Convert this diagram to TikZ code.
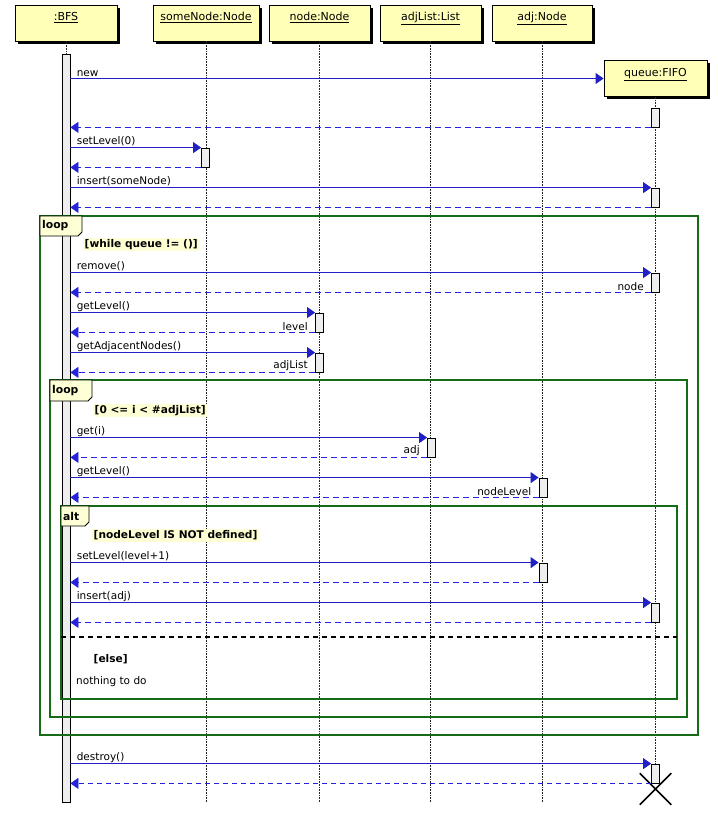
\documentclass[tikz,border=0pt]{standalone}
\usepackage{fontspec}
\setmainfont{DejaVu Sans}
\usetikzlibrary{arrows.meta,shadows,shapes.misc}
\definecolor{objfill}{RGB}{255,255,184}
\definecolor{msgblue}{RGB}{32,32,196}
\definecolor{retblue}{RGB}{36,36,220}
\definecolor{framegreen}{RGB}{22,108,22}
\definecolor{guardfill}{RGB}{255,255,214}
\definecolor{barfill}{RGB}{238,238,238}
\tikzset{
  obj/.style={draw, fill=objfill, line width=0.8pt, minimum width=102pt, minimum height=36pt,
    inner sep=0pt, text height=8pt, text depth=12pt, font=\fontsize{11}{13}\selectfont,
    drop shadow={shadow xshift=3pt, shadow yshift=-3pt, fill=black, opacity=1}},
  life/.style={densely dotted, black!85, line width=0.6pt},
  actbar/.style={draw, fill=barfill, line width=0.8pt, minimum width=8pt, inner sep=0pt},
  msg/.style={draw=msgblue, line width=0.8pt, -{Triangle[length=8pt,width=11pt]}},
  ret/.style={msg, draw=retblue, dash pattern=on 6pt off 4pt},
  lbl/.style={above right, inner sep=1pt, xshift=5pt, font=\fontsize{10.5}{12}\selectfont},
  rlbl/.style={above left, inner sep=1pt, xshift=-6pt, font=\fontsize{10.5}{12}\selectfont},
  frame/.style={draw=framegreen, line width=1.6pt},
  tab/.style={draw, fill=guardfill, line width=0.8pt},
  tabtxt/.style={anchor=west, inner sep=1pt, font=\bfseries\fontsize{10.8}{12}\selectfont},
  guard/.style={anchor=west, fill=guardfill, inner sep=1.5pt, font=\bfseries\fontsize{10.6}{12}\selectfont},
  plain/.style={anchor=west, inner sep=1pt, font=\fontsize{10.5}{12}\selectfont}
}
\newcommand\actbox[4]{\node[actbar, minimum height={(#4)-(#3)}] (#1) at (#2,{((#3)+(#4))/2}) {};}
\begin{document}
\begin{tikzpicture}[x=1pt,y=-1pt]
\useasboundingbox (0,0) rectangle (717,821);
% objects
\node[obj] (bfs) at (66,23) {\underline{:BFS}};
\node[obj, minimum width=106pt] (somenode) at (206,23) {\underline{someNode:Node}};
\node[obj, minimum width=101pt] (nodeobj) at (319.5,23) {\underline{node:Node}};
\node[obj, minimum width=101pt] (adjlist) at (430.5,23) {\underline{adjList:List}};
\node[obj, minimum width=100pt] (adjobj) at (542,23) {\underline{adj:Node}};
\node[obj, minimum width=103pt] (queue) at (655.5,78.5) {\underline{queue:FIFO}};
% lifelines
\draw[life] (bfs.south) -- (bfs.south |- 0,802);
\draw[life] (somenode.south) -- (somenode.south |- 0,802);
\draw[life] (nodeobj.south) -- (nodeobj.south |- 0,802);
\draw[life] (adjlist.south) -- (adjlist.south |- 0,802);
\draw[life] (adjobj.south) -- (adjobj.south |- 0,802);
\draw[life] (queue.south) -- (queue.south |- 0,783);
% activations
\actbox{bfsbar}{66}{54}{802}
\actbox{q1}{655.5}{108}{127}
\actbox{s1}{205.5}{148}{167}
\actbox{q2}{655.5}{188}{207}
\actbox{q3}{655.5}{273}{292}
\actbox{n1}{319.5}{313}{332}
\actbox{n2}{319.5}{353}{372}
\actbox{a1}{431.5}{438}{457}
\actbox{j1}{543}{478}{497}
\actbox{j2}{543}{563}{582}
\actbox{q4}{655.5}{603}{622}
\actbox{q5}{655.5}{764}{783}
\node[draw, cross out, line width=1.5pt, minimum size=30pt] (qend) at (655.5,789) {};
% messages
\draw[msg] (bfsbar.east |- queue.west) -- (queue.west) node[lbl, pos=0] {new};
\draw[ret] (q1.south west) -- (bfsbar.east |- q1.south);
\draw[msg] (bfsbar.east |- s1.north) -- (s1.north west) node[lbl, pos=0] {setLevel(0)};
\draw[ret] (s1.south west) -- (bfsbar.east |- s1.south);
\draw[msg] (bfsbar.east |- q2.north) -- (q2.north west) node[lbl, pos=0] {insert(someNode)};
\draw[ret] (q2.south west) -- (bfsbar.east |- q2.south);
\draw[msg] (bfsbar.east |- q3.north) -- (q3.north west) node[lbl, pos=0] {remove()};
\draw[ret] (q3.south west) -- (bfsbar.east |- q3.south) node[rlbl, pos=0] {node};
\draw[msg] (bfsbar.east |- n1.north) -- (n1.north west) node[lbl, pos=0] {getLevel()};
\draw[ret] (n1.south west) -- (bfsbar.east |- n1.south) node[rlbl, pos=0] {level};
\draw[msg] (bfsbar.east |- n2.north) -- (n2.north west) node[lbl, pos=0] {getAdjacentNodes()};
\draw[ret] (n2.south west) -- (bfsbar.east |- n2.south) node[rlbl, pos=0] {adjList};
\draw[msg] (bfsbar.east |- a1.north) -- (a1.north west) node[lbl, pos=0] {get(i)};
\draw[ret] (a1.south west) -- (bfsbar.east |- a1.south) node[rlbl, pos=0] {adj};
\draw[msg] (bfsbar.east |- j1.north) -- (j1.north west) node[lbl, pos=0] {getLevel()};
\draw[ret] (j1.south west) -- (bfsbar.east |- j1.south) node[rlbl, pos=0] {nodeLevel};
\draw[msg] (bfsbar.east |- j2.north) -- (j2.north west) node[lbl, pos=0] {setLevel(level+1)};
\draw[ret] (j2.south west) -- (bfsbar.east |- j2.south);
\draw[msg] (bfsbar.east |- q4.north) -- (q4.north west) node[lbl, pos=0] {insert(adj)};
\draw[ret] (q4.south west) -- (bfsbar.east |- q4.south);
\draw[msg] (bfsbar.east |- q5.north) -- (q5.north west) node[lbl, pos=0] {destroy()};
\draw[ret, dash pattern=on 5pt off 4pt] (q5.south west) -- (bfsbar.east |- q5.south);
% combined fragments
\draw[frame] (40,216) rectangle (698,735);
\draw[tab] (40,216) -| (82,232) -- (78,236) -| (40,216) -- cycle;
\node[tabtxt] (loopa) at (41,226) {loop};
\node[guard] (guarda) at (83,244.5) {[while queue != ()]};
\draw[frame] (50,380) rectangle (687,717);
\draw[tab] (50,380) -| (92,397) -- (88,401) -| (50,380) -- cycle;
\node[tabtxt] (loopb) at (51,391) {loop};
\node[guard] (guardb) at (93,410.5) {[0 <= i < \#adjList]};
\draw[frame] (61,506) rectangle (677,699);
\draw[tab] (61,506) -| (89,522) -- (85,526) -| (61,506) -- cycle;
\node[tabtxt] (altc) at (62,516) {alt};
\node[guard] (guardc) at (92,535.5) {[nodeLevel IS NOT defined]};
\draw[black, line width=1.3pt, dash pattern=on 5pt off 4pt] (61,637) -- (677,637);
\node[guard, fill=none] (guardd) at (92,659) {[else]};
\node[plain] (nothing) at (75,682) {nothing to do};
\end{tikzpicture}
\end{document}
